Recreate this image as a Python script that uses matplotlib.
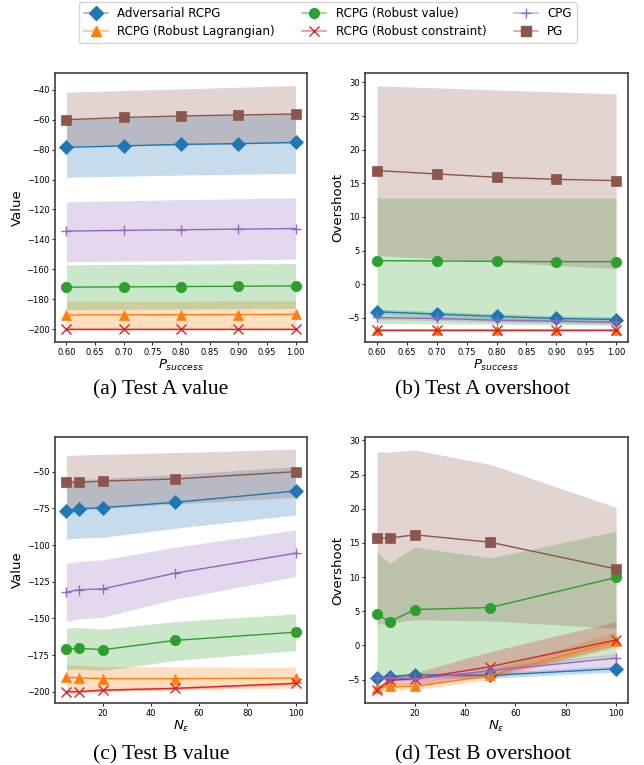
import matplotlib
matplotlib.use("Agg")
import matplotlib.pyplot as plt
from matplotlib.lines import Line2D
from matplotlib.colors import to_rgba

# x values
p_success = [0.6, 0.7, 0.8, 0.9, 1.0]
n_eps = [5, 10, 20, 50, 100]

names = ["Adversarial RCPG", "RCPG (Robust Lagrangian)", "RCPG (Robust value)",
         "RCPG (Robust constraint)", "CPG", "PG"]
colors = ["tab:blue", "tab:orange", "tab:green", "tab:red", "tab:purple", "tab:brown"]
markers = ["D", "^", "o", "x", "+", "s"]

# Test A value: mean, low, high per method
a_val_adv = [-78.5, -77.5, -76.5, -76.0, -75.2]
a_val_adv_lo = [-98.5, -97.8, -97.0, -96.5, -95.9]
a_val_adv_hi = [-59.5, -58.5, -57.5, -56.5, -55.5]
a_val_lag = [-190.6, -190.5, -190.4, -190.3, -190.2]
a_val_lag_lo = [-200.5, -200.5, -200.5, -200.5, -200.5]
a_val_lag_hi = [-181.5, -181.4, -181.3, -181.2, -181.1]
a_val_rv = [-172.0, -171.8, -171.6, -171.4, -171.2]
a_val_rv_lo = [-187.0, -186.8, -186.6, -186.4, -186.2]
a_val_rv_hi = [-157.0, -156.8, -156.6, -156.4, -156.2]
a_val_rc = [-200.0, -200.0, -200.0, -200.0, -200.0]
a_val_rc_lo = [-200.4, -200.4, -200.4, -200.4, -200.4]
a_val_rc_hi = [-199.6, -199.6, -199.6, -199.6, -199.6]
a_val_cpg = [-134.5, -134.0, -133.6, -133.2, -132.8]
a_val_cpg_lo = [-155.0, -154.6, -154.2, -153.8, -153.3]
a_val_cpg_hi = [-114.9, -114.2, -113.5, -112.9, -112.2]
a_val_pg = [-60.0, -58.5, -57.5, -56.8, -56.2]
a_val_pg_lo = [-78.0, -77.5, -77.0, -76.3, -75.7]
a_val_pg_hi = [-41.6, -40.5, -39.4, -38.3, -37.1]

# Test A overshoot
a_ov_adv = [-4.1, -4.45, -4.8, -5.1, -5.25]
a_ov_adv_lo = [-4.5, -4.85, -5.2, -5.5, -5.65]
a_ov_adv_hi = [-3.7, -4.05, -4.4, -4.7, -4.85]
a_ov_lag = [-6.85, -6.85, -6.85, -6.85, -6.85]
a_ov_lag_lo = [-7.0, -7.0, -7.0, -7.0, -7.0]
a_ov_lag_hi = [-6.7, -6.7, -6.7, -6.7, -6.7]
a_ov_rv = [3.5, 3.45, 3.4, 3.35, 3.35]
a_ov_rv_lo = [-5.85, -5.9, -5.95, -6.0, -6.1]
a_ov_rv_hi = [12.8, 12.8, 12.8, 12.8, 12.8]
a_ov_rc = [-6.85, -6.85, -6.85, -6.85, -6.85]
a_ov_rc_lo = [-7.0, -7.0, -7.0, -7.0, -7.0]
a_ov_rc_hi = [-6.7, -6.7, -6.7, -6.7, -6.7]
a_ov_cpg = [-4.95, -5.1, -5.35, -5.5, -5.65]
a_ov_cpg_lo = [-5.25, -5.4, -5.65, -5.8, -5.95]
a_ov_cpg_hi = [-4.65, -4.8, -5.05, -5.2, -5.35]
a_ov_pg = [16.9, 16.4, 15.9, 15.6, 15.4]
a_ov_pg_lo = [4.25, 3.8, 3.3, 2.8, 2.3]
a_ov_pg_hi = [29.5, 29.2, 28.9, 28.6, 28.3]

# Test B value
b_val_adv = [-76.5, -75.4, -74.5, -70.9, -63.2]
b_val_adv_lo = [-96.0, -95.3, -94.7, -88.6, -79.5]
b_val_adv_hi = [-55.7, -55.5, -54.5, -52.0, -46.6]
b_val_lag = [-190.2, -190.5, -191.1, -191.1, -190.7]
b_val_lag_lo = [-200.0, -199.8, -199.5, -198.5, -197.5]
b_val_lag_hi = [-181.6, -182.0, -182.8, -183.0, -183.4]
b_val_rv = [-171.2, -170.3, -171.4, -165.0, -159.4]
b_val_rv_lo = [-185.0, -184.5, -185.5, -178.7, -171.9]
b_val_rv_hi = [-156.6, -156.2, -157.4, -152.2, -147.0]
b_val_rc = [-200.0, -200.0, -198.9, -197.7, -194.3]
b_val_rc_lo = [-201.0, -201.0, -199.9, -198.7, -195.3]
b_val_rc_hi = [-199.0, -199.0, -197.9, -196.7, -193.3]
b_val_cpg = [-132.1, -130.5, -129.9, -119.2, -105.6]
b_val_cpg_lo = [-152.1, -150.5, -149.2, -136.9, -121.5]
b_val_cpg_hi = [-112.4, -111.2, -110.1, -101.5, -89.7]
b_val_pg = [-57.3, -57.3, -56.4, -55.0, -50.0]
b_val_pg_lo = [-77.0, -76.0, -75.0, -72.0, -67.5]
b_val_pg_hi = [-39.0, -38.7, -38.2, -37.0, -34.6]

# Test B overshoot
b_ov_adv = [-4.7, -4.6, -4.3, -4.4, -3.4]
b_ov_adv_lo = [-5.0, -4.9, -4.6, -4.8, -3.9]
b_ov_adv_hi = [-4.4, -4.3, -4.0, -4.0, -3.0]
b_ov_lag = [-6.2, -6.0, -6.0, -4.4, 0.6]
b_ov_lag_lo = [-6.6, -6.5, -6.5, -5.0, -0.2]
b_ov_lag_hi = [-5.8, -5.5, -5.4, -3.6, 2.0]
b_ov_rv = [4.6, 3.45, 5.25, 5.55, 9.95]
b_ov_rv_lo = [-4.6, -4.6, -4.2, -3.5, -1.5]
b_ov_rv_hi = [13.7, 12.0, 14.4, 12.8, 16.7]
b_ov_rc = [-6.5, -5.1, -4.9, -3.1, 0.8]
b_ov_rc_lo = [-7.0, -5.7, -5.8, -4.6, 0.0]
b_ov_rc_hi = [-6.0, -4.5, -4.0, -0.9, 3.5]
b_ov_cpg = [-4.8, -4.7, -4.9, -3.7, -1.85]
b_ov_cpg_lo = [-5.2, -5.1, -5.3, -4.3, -3.1]
b_ov_cpg_hi = [-4.4, -4.3, -4.4, -3.2, -1.2]
b_ov_pg = [15.7, 15.7, 16.2, 15.1, 11.2]
b_ov_pg_lo = [3.1, 3.3, 3.75, 3.6, 2.5]
b_ov_pg_hi = [28.3, 28.3, 28.6, 26.5, 20.2]

panels = [
    (p_success, [(a_val_adv, a_val_adv_lo, a_val_adv_hi), (a_val_lag, a_val_lag_lo, a_val_lag_hi),
                 (a_val_rv, a_val_rv_lo, a_val_rv_hi), (a_val_rc, a_val_rc_lo, a_val_rc_hi),
                 (a_val_cpg, a_val_cpg_lo, a_val_cpg_hi), (a_val_pg, a_val_pg_lo, a_val_pg_hi)],
     "Value", r"$P_{success}$", "(a) Test A value"),
    (p_success, [(a_ov_adv, a_ov_adv_lo, a_ov_adv_hi), (a_ov_lag, a_ov_lag_lo, a_ov_lag_hi),
                 (a_ov_rv, a_ov_rv_lo, a_ov_rv_hi), (a_ov_rc, a_ov_rc_lo, a_ov_rc_hi),
                 (a_ov_cpg, a_ov_cpg_lo, a_ov_cpg_hi), (a_ov_pg, a_ov_pg_lo, a_ov_pg_hi)],
     "Overshoot", r"$P_{success}$", "(b) Test A overshoot"),
    (n_eps, [(b_val_adv, b_val_adv_lo, b_val_adv_hi), (b_val_lag, b_val_lag_lo, b_val_lag_hi),
             (b_val_rv, b_val_rv_lo, b_val_rv_hi), (b_val_rc, b_val_rc_lo, b_val_rc_hi),
             (b_val_cpg, b_val_cpg_lo, b_val_cpg_hi), (b_val_pg, b_val_pg_lo, b_val_pg_hi)],
     "Value", r"$N_{\varepsilon}$", "(c) Test B value"),
    (n_eps, [(b_ov_adv, b_ov_adv_lo, b_ov_adv_hi), (b_ov_lag, b_ov_lag_lo, b_ov_lag_hi),
             (b_ov_rv, b_ov_rv_lo, b_ov_rv_hi), (b_ov_rc, b_ov_rc_lo, b_ov_rc_hi),
             (b_ov_cpg, b_ov_cpg_lo, b_ov_cpg_hi), (b_ov_pg, b_ov_pg_lo, b_ov_pg_hi)],
     "Overshoot", r"$N_{\varepsilon}$", "(d) Test B overshoot"),
]

# axes boxes in figure fractions, plus y limits
boxes = [[0.0854, 0.5529, 0.3913, 0.3516], [0.5668, 0.5529, 0.4084, 0.3516],
         [0.0854, 0.0810, 0.3913, 0.3477], [0.5668, 0.0810, 0.4084, 0.3477]]
ylims = [(-208.7, -28.8), (-8.6, 31.4), (-207.7, -26.4), (-8.43, 30.5)]
caption_xy = [(0.25, 0.4902), (0.75, 0.4902), (0.25, 0.0131), (0.75, 0.0131)]

fig = plt.figure(figsize=(6.44, 7.65), dpi=100)

for i, (xs, series, ylab, xlab, cap) in enumerate(panels):
    ax = fig.add_axes(boxes[i])
    for (m, lo, hi), c, mk in zip(series, colors, markers):
        ax.fill_between(xs, lo, hi, color=c, alpha=0.25, linewidth=0)
        ax.plot(xs, m, color=c, marker=mk, markersize=7.5, linewidth=1.0,
                markeredgewidth=1.0 if mk in ("x", "+") else 0.5)
    ax.set_ylim(*ylims[i])
    ax.set_ylabel(ylab, fontsize=9.5, labelpad=2)
    ax.set_xlabel(xlab, fontsize=9.5, labelpad=1)
    ax.tick_params(labelsize=6, length=2.5, width=0.6, pad=1.5)
    for sp in ax.spines.values():
        sp.set_linewidth(1.2)
        sp.set_color("#404040")
    fig.text(caption_xy[i][0], caption_xy[i][1], cap, ha="center", va="center",
             fontsize=15.5, family="Liberation Serif")

handles = []
for c, mk in zip(colors, markers):
    handles.append(Line2D([], [], color=to_rgba(c, 0.5), marker=mk, markersize=7,
                          markerfacecolor=c, markeredgecolor=c, linewidth=1.2))
fig.legend(handles, names, loc="upper center", bbox_to_anchor=(0.509, 1.0),
           ncol=3, fontsize=8.6, borderaxespad=0.2, handletextpad=0.8,
           columnspacing=2.3, labelspacing=0.4)

fig.savefig("out.png", dpi=100)
